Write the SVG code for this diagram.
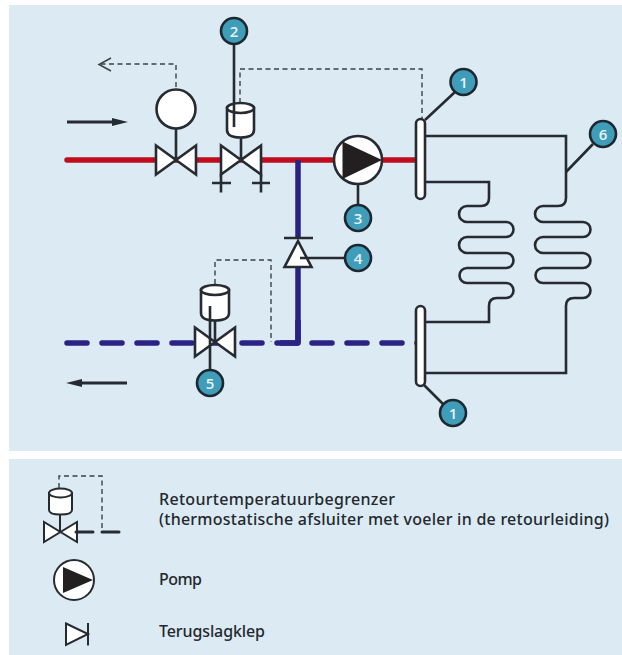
<svg xmlns="http://www.w3.org/2000/svg" width="622" height="655" viewBox="0 0 622 655">
<style>
.bg{fill:#dceaf3}
.k{fill:none;stroke:#262b31;stroke-width:2.600}
.w{fill:#fff;stroke:#262b31;stroke-width:2.600;stroke-linejoin:miter}
.l{stroke-width:2}
.a{fill:none;stroke:#262b31;stroke-width:3}
.d{fill:none;stroke:#3a4148;stroke-width:1.400;stroke-dasharray:5 3.500}
.red{fill:none;stroke:#c00d1e;stroke-width:5.500;stroke-linecap:round}
.blue{fill:none;stroke:#2b2285;stroke-width:5.500}
.bd{stroke-dasharray:20 15;stroke-linecap:round}
.b{fill:#3f9db9;stroke:#1d2730;stroke-width:2.600}
.n{font:600 15px "Open Sans","Liberation Sans",sans-serif;fill:#e6f3f7;text-anchor:middle}
.t{font:500 16px "Noto Sans","Open Sans","Liberation Sans",sans-serif;fill:#23282e}
</style>
<defs>
<path id="valve" class="w" d="M-20-14.500V14.500L20-14.500V14.500Z"/>
</defs>
<rect width="622" height="655" fill="#fff"/>
<rect class="bg" x="9" y="5" width="613" height="446"/>
<rect class="bg" x="9" y="459" width="613" height="196"/>
<g id="connectors">
<path class="red" d="M67 160H417"/>
<path class="blue" d="M298 160V238M298 267V343"/>
<path class="blue bd" d="M67 343H420"/>
<path class="blue" d="M280 343H298V320" stroke-linejoin="round"/>
<path class="k" d="M234 45V127M176 128V160M241 137V160M425 120L455 92"/>
<path class="k" d="M425 136H566V198Q566 206 558 206H543A8 8 0 0 0 543 222H583A7.500 7.500 0 0 1 583 237H543A8 8 0 0 0 543 253H583A7.500 7.500 0 0 1 583 268H543A7.500 7.500 0 0 0 543 283H583A7.500 7.500 0 0 1 583 298H574Q566 298 566 306V373H424"/>
<path class="k" d="M425 182H489V198Q489 206 481 206H467A8 8 0 0 0 467 222H506A7.500 7.500 0 0 1 506 237H467A8 8 0 0 0 467 253H506A7.500 7.500 0 0 1 506 268H467A7.500 7.500 0 0 0 467 283H506A7.500 7.500 0 0 1 506 298H497Q489 298 489 306V322H424"/>
<path class="k" d="M566 172L593 144M358 184V206M345 258H300M424 385L443 404"/>
<path class="d" d="M176 87V64H101M240 103V69H422V119M215 284V260H271V342"/>
<path fill="none" stroke="#3a4148" stroke-width="1.500" d="M111 58L99 64.500L111 71"/>
<path class="a" d="M67 122H112"/><path d="M112 118L128 122L112 126Z" fill="#262b31"/>
<path class="a" d="M127 383H82"/><path d="M82 379L66 383L82 387Z" fill="#262b31"/>
</g>
<g id="valve-a"><circle class="w" cx="176" cy="109" r="19.500"/><use href="#valve" x="176" y="160"/></g>
<g id="valve-b"><path class="w" d="M227 108V130Q227 137.500 240.500 137.500T254 130V108Z"/><ellipse class="w" cx="240.500" cy="108" rx="13.500" ry="5"/><path class="k" d="M234 103V127"/><use href="#valve" x="241" y="160"/><path class="k" d="M221 174V192.500M212 183H231M261 174V192.500M252 183H270"/></g>
<g id="pump"><circle cx="358" cy="160" r="24" class="w"/><path d="M342.500 141.500L382 160L342.500 179Z" fill="#231f20"/></g>
<g id="flange-top"><rect class="w" x="416" y="119" width="9" height="80" rx="4.500"/></g>
<g id="flange-bottom"><rect class="w" x="416" y="306" width="9" height="80" rx="4.500"/></g>
<g id="check"><path class="w" d="M298 241L284.500 267H311.500Z"/><path class="k" d="M284 238H313M300 258H306"/></g>
<g id="valve-c"><path class="w" d="M201 290V313Q201 320.500 215 320.500T229 313V290Z"/><ellipse class="w" cx="215" cy="290" rx="14" ry="5"/><use href="#valve" x="215" y="342"/><path class="k" d="M210 306V371M215 320V342"/></g>
<g id="b2"><circle class="b" cx="234" cy="31" r="13"/><text class="n" x="234" y="36.500">2</text></g>
<g id="b1a"><circle class="b" cx="463.500" cy="82" r="13"/><text class="n" x="463.500" y="87.500">1</text></g>
<g id="b6"><circle class="b" cx="603" cy="134" r="13"/><text class="n" x="603" y="139.500">6</text></g>
<g id="b3"><circle class="b" cx="358" cy="218" r="13"/><text class="n" x="358" y="223.500">3</text></g>
<g id="b4"><circle class="b" cx="358" cy="258" r="13"/><text class="n" x="358" y="263.500">4</text></g>
<g id="b5"><circle class="b" cx="210" cy="383" r="13"/><text class="n" x="210" y="388.500">5</text></g>
<g id="b1b"><circle class="b" cx="453" cy="413" r="13"/><text class="n" x="453" y="418.500">1</text></g>
<g id="legend-valve"><path class="d" d="M59 488V476H102V530"/><path class="w l" d="M49 493V510Q49 514.500 60.500 514.500T72 510V493Z"/><ellipse class="w l" cx="60.500" cy="493" rx="11.500" ry="4.500"/><path class="k l" d="M60 514V532"/><path class="w l" d="M44 522V542L77 522V542Z"/><path class="a" d="M76 532H93M102 532H119" stroke-linecap="round"/></g>
<g id="legend-pump"><circle class="w l" cx="74" cy="580" r="20"/><path d="M63 567L93 580L63 593Z" fill="#231f20"/></g>
<g id="legend-check"><path class="w l" d="M66 623.500L88 634L66 645Z"/><path class="k l" d="M88 623V645.500"/></g>
<text class="t" x="159" y="505" textLength="236" lengthAdjust="spacing">Retourtemperatuurbegrenzer</text>
<text class="t" x="159" y="525" textLength="450" lengthAdjust="spacing">(thermostatische afsluiter met voeler in de retourleiding)</text>
<text class="t" x="159" y="585" textLength="43" lengthAdjust="spacing">Pomp</text>
<text class="t" x="159" y="637" textLength="106" lengthAdjust="spacing">Terugslagklep</text>
</svg>
